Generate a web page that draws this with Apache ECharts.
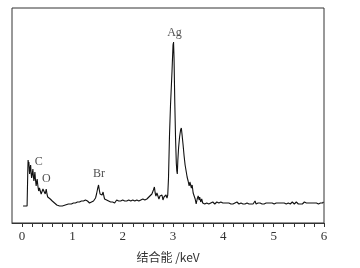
<!DOCTYPE html>
<html>
<head>
<meta charset="utf-8">
<script src="https://cdn.jsdelivr.net/npm/echarts@6/dist/echarts.min.js"></script>
<style>html,body{margin:0;padding:0;background:#fff;}#c{width:360px;height:268px;}</style>
</head>
<body>
<div id="c"></div>
<script>
// EDS spectrum: [energy keV, counts (arb.)]
const spectrum = [
[0.02,17],[0.06,17],[0.10,17],[0.11,17],[0.115,55],[0.12,63],[0.13,58],[0.135,61],[0.145,52],[0.15,49],[0.16,55],[0.17,58],[0.18,50],[0.19,45],[0.20,48],[0.215,54],[0.225,47],[0.235,42],[0.245,46],[0.255,51],[0.265,44],[0.28,37],[0.29,41],[0.30,44],[0.31,39],[0.32,35],[0.33,32],[0.345,35],[0.355,37],[0.365,33],[0.38,29],[0.395,31],[0.415,34],[0.43,33],[0.44,36],[0.45,32],[0.46,29],[0.47,31],[0.48,34],[0.495,29],[0.51,26],[0.52,28],[0.53,27],[0.545,25],[0.56,24],[0.58,23],[0.60,22],[0.62,21],[0.645,20],[0.67,19],[0.69,18],[0.72,17],[0.745,17],[0.77,18],[0.80,17],[0.83,18],[0.86,18],[0.89,17],[0.92,19],[0.95,18],[0.98,19],[1.00,18],[1.02,20],[1.04,19],[1.06,20],[1.08,19],[1.10,21],[1.12,19],[1.14,21],[1.16,20],[1.18,22],[1.20,20],[1.22,22],[1.24,21],[1.26,23],[1.28,21],[1.30,22],[1.32,23],[1.34,20],[1.36,22],[1.38,21],[1.40,23],[1.42,22],[1.44,23],[1.46,25],[1.48,29],[1.50,34],[1.52,38],[1.535,33],[1.55,29],[1.57,27],[1.59,28],[1.61,31],[1.625,27],[1.64,24],[1.66,26],[1.68,23],[1.70,24],[1.72,22],[1.74,24],[1.76,21],[1.78,23],[1.80,21],[1.82,22],[1.84,20],[1.86,22],[1.88,23],[1.90,21],[1.92,22],[1.94,20],[1.96,22],[1.98,21],[2.00,23],[2.02,21],[2.04,22],[2.06,20],[2.08,22],[2.10,21],[2.12,23],[2.14,21],[2.16,22],[2.18,21],[2.20,23],[2.22,21],[2.24,22],[2.26,20],[2.28,23],[2.30,21],[2.32,22],[2.34,21],[2.36,23],[2.38,22],[2.40,24],[2.42,22],[2.44,23],[2.46,22],[2.48,24],[2.50,23],[2.52,26],[2.55,25],[2.58,29],[2.61,33],[2.63,36],[2.645,30],[2.66,27],[2.68,30],[2.70,28],[2.72,24],[2.74,27],[2.76,25],[2.78,28],[2.80,23],[2.82,26],[2.84,24],[2.86,28],[2.88,25],[2.895,28],[2.91,45],[2.93,88],[2.95,118],[2.98,152],[3.00,178],[3.01,181],[3.02,165],[3.035,120],[3.05,85],[3.065,60],[3.075,52],[3.085,49],[3.095,62],[3.11,75],[3.13,86],[3.15,93],[3.165,95],[3.18,88],[3.20,78],[3.22,67],[3.24,58],[3.26,52],[3.28,46],[3.30,42],[3.32,37],[3.335,41],[3.35,39],[3.365,35],[3.38,38],[3.40,30],[3.42,27],[3.44,24],[3.46,19],[3.48,24],[3.50,27],[3.52,23],[3.53,26],[3.55,21],[3.57,24],[3.59,20],[3.61,22],[3.63,19],[3.65,21],[3.67,20],[3.69,21],[3.71,19],[3.73,21],[3.75,20],[3.77,19],[3.79,21],[3.81,20],[3.83,19],[3.85,20],[3.87,21],[3.89,19],[3.91,20],[3.93,19],[3.95,21],[3.97,19],[3.99,20],[4.01,19],[4.03,20],[4.05,19],[4.07,20],[4.09,19],[4.11,20],[4.13,19],[4.15,19],[4.17,20],[4.19,19],[4.21,19],[4.23,20],[4.25,19],[4.27,21],[4.29,20],[4.31,19],[4.33,19],[4.35,20],[4.37,21],[4.39,19],[4.41,20],[4.43,19],[4.45,18],[4.47,20],[4.49,19],[4.51,19],[4.53,20],[4.55,19],[4.57,21],[4.59,19],[4.61,21],[4.63,22],[4.65,19],[4.67,21],[4.69,20],[4.71,19],[4.73,20],[4.75,21],[4.77,19],[4.79,20],[4.81,19],[4.83,21],[4.85,20],[4.87,19],[4.89,20],[4.91,21],[4.93,20],[4.95,21],[4.97,20],[4.99,21],[5.01,19],[5.03,21],[5.05,20],[5.07,22],[5.09,20],[5.11,21],[5.13,20],[5.15,21],[5.17,20],[5.19,22],[5.21,20],[5.23,21],[5.25,19],[5.27,21],[5.29,20],[5.31,21],[5.33,19],[5.35,20],[5.37,21],[5.39,20],[5.41,19],[5.43,20],[5.45,21],[5.47,20],[5.49,19],[5.51,20],[5.53,19],[5.55,20],[5.57,19],[5.59,20],[5.61,21],[5.63,19],[5.65,20],[5.67,21],[5.69,20],[5.71,19],[5.73,20],[5.75,21],[5.77,20],[5.79,21],[5.81,20],[5.83,22],[5.85,20],[5.87,21],[5.89,19],[5.91,21],[5.93,20],[5.95,22],[5.97,20],[5.99,21]
];
// peak annotations: element, energy, label height
const peakNames = ['C', 'O', 'Br', 'Ag'];
const peakEnergy = [0.33, 0.48, 1.53, 3.03];
const peakLabelY = [61, 44, 49, 190];
// axis tick labels (keV)
const tickLabels = [0, 1, 2, 3, 4, 5, 6];
const xTitle = '结合能 /keV';

const minorTicks = [];
for (let i = 0; i <= 30; i++) minorTicks.push(i / 5);

const chart = echarts.init(document.getElementById('c'), null, {renderer: 'canvas'});
chart.setOption({
  animation: false,
  backgroundColor: '#fff',
  grid: {left: 12, right: 36, top: 8, bottom: 45, show: true, borderColor: '#333', borderWidth: 1, backgroundColor: 'transparent'},
  xAxis: {
    type: 'value', min: -0.2, max: 6,
    name: xTitle, nameLocation: 'middle', nameGap: 28,
    nameTextStyle: {fontFamily: 'Noto Sans CJK SC', fontSize: 12, color: '#333'},
    axisLine: {show: true, onZero: false, lineStyle: {color: '#333', width: 1}},
    axisTick: {show: true, inside: false, length: 4, customValues: minorTicks, lineStyle: {color: '#333', width: 1}},
    axisLabel: {show: true, customValues: tickLabels, margin: 7, fontFamily: 'Liberation Serif', fontSize: 13, color: '#333'},
    splitLine: {show: false}
  },
  yAxis: {
    type: 'value', min: 0, max: 215, show: false,
    splitLine: {show: false}
  },
  series: [
    {
      type: 'line', data: spectrum, showSymbol: false, symbol: 'none',
      lineStyle: {color: '#111', width: 1.1}, silent: true
    },
    {
      type: 'scatter', symbolSize: 0, silent: true,
      data: peakNames.map((n, i) => ({value: [peakEnergy[i], peakLabelY[i]], name: n})),
      label: {show: true, position: 'inside', formatter: p => p.name, fontFamily: 'Liberation Serif', fontSize: 12, color: '#222'}
    }
  ]
});
</script>
</body>
</html>
